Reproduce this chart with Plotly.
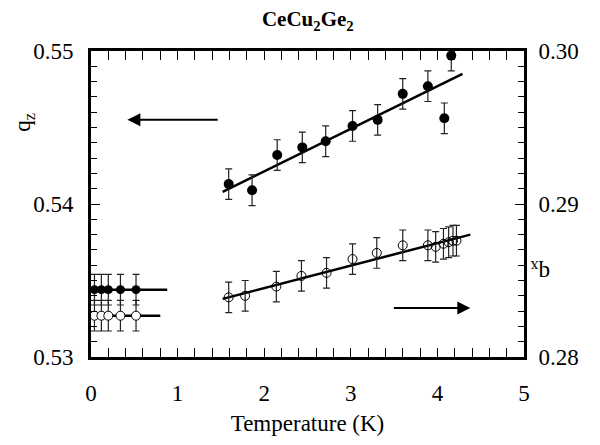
import plotly.graph_objects as go

# ---- data ----
# q_z (left axis), filled circles
T_qz_low = [0.04, 0.12, 0.20, 0.34, 0.52]
qz_low = [0.5344, 0.5344, 0.5344, 0.5344, 0.5344]
qz_low_err = [0.001, 0.001, 0.001, 0.001, 0.001]
T_qz_high = [1.59, 1.86, 2.15, 2.44, 2.71, 3.02, 3.31, 3.60, 3.89, 4.08, 4.16]
qz_high = [0.5413, 0.5409, 0.5432, 0.5437, 0.5441, 0.5451, 0.5455, 0.5472, 0.5477, 0.5456, 0.5497]
qz_high_err = [0.001] * 11
T_qz_flat = [0.0, 0.88]
qz_flat = [0.5344, 0.5344]
T_qz_fit = [1.52, 4.29]
qz_fit = [0.5408, 0.5485]

# x_b (right axis), open circles
T_xb_low = [0.04, 0.12, 0.20, 0.34, 0.52]
xb_low = [0.2827, 0.2827, 0.2827, 0.2827, 0.2827]
xb_low_err = [0.001, 0.001, 0.001, 0.001, 0.001]
T_xb_high = [1.59, 1.78, 2.14, 2.43, 2.72, 3.02, 3.30, 3.60, 3.89, 3.98, 4.07, 4.13, 4.18, 4.22]
xb_high = [0.2839, 0.2840, 0.2846, 0.2853, 0.2855, 0.2864, 0.2868, 0.2873, 0.2873, 0.2872, 0.2874, 0.2875, 0.2876, 0.2876]
xb_high_err = [0.001] * 14
T_xb_flat = [0.0, 0.80]
xb_flat = [0.2827, 0.2827]
T_xb_fit = [1.52, 4.38]
xb_fit = [0.2838, 0.2880]

x_ticks = [0, 1, 2, 3, 4, 5]

FONT = "Liberation Serif"
err_style = dict(type="data", thickness=1.2, width=3.5, color="#222")

fig = go.Figure()

# left-axis traces
fig.add_trace(go.Scatter(x=T_qz_flat, y=qz_flat, mode="lines",
                         line=dict(color="black", width=2.5), yaxis="y"))
fig.add_trace(go.Scatter(x=T_qz_fit, y=qz_fit, mode="lines",
                         line=dict(color="black", width=2.5), yaxis="y"))
fig.add_trace(go.Scatter(x=T_qz_low, y=qz_low, mode="markers",
                         marker=dict(color="black", size=9),
                         error_y=dict(array=qz_low_err, **err_style), yaxis="y"))
fig.add_trace(go.Scatter(x=T_qz_high, y=qz_high, mode="markers",
                         marker=dict(color="black", size=10),
                         error_y=dict(array=qz_high_err, **err_style), yaxis="y"))

# right-axis traces
fig.add_trace(go.Scatter(x=T_xb_flat, y=xb_flat, mode="lines",
                         line=dict(color="black", width=2.5), yaxis="y2"))
fig.add_trace(go.Scatter(x=T_xb_fit, y=xb_fit, mode="lines",
                         line=dict(color="black", width=2.5), yaxis="y2"))
fig.add_trace(go.Scatter(x=T_xb_low, y=xb_low, mode="markers",
                         marker=dict(color="white", size=9, line=dict(color="black", width=1)),
                         error_y=dict(array=xb_low_err, **err_style), yaxis="y2"))
fig.add_trace(go.Scatter(x=T_xb_high, y=xb_high, mode="markers",
                         marker=dict(color="rgba(0,0,0,0)", size=9, line=dict(color="black", width=1)),
                         error_y=dict(array=xb_high_err, **err_style), yaxis="y2"))

axis_font = dict(family=FONT, size=23, color="black")

fig.update_layout(
    width=600, height=445,
    margin=dict(l=91, r=76, t=51, b=74),
    paper_bgcolor="white", plot_bgcolor="white",
    showlegend=False,
    title=dict(text="<b>CeCu<sub>2</sub>Ge<sub>2</sub></b>", x=0.513, xanchor="center",
               y=1 - 19 / 445, yanchor="middle", yref="container",
               font=dict(family=FONT, size=21, color="black")),
    xaxis=dict(range=[0, 5], tickvals=x_ticks, ticktext=[str(v) for v in x_ticks],
               showgrid=False, zeroline=False,
               showline=True, linewidth=3, linecolor="black", mirror="allticks",
               ticks="inside", ticklen=9, tickwidth=1.2, tickcolor="black",
               minor=dict(dtick=0.2, ticks="inside", ticklen=5, tickwidth=1.2, tickcolor="black"),
               tickfont=axis_font, ticklabelstandoff=13,
               title=dict(text="Temperature (K)", font=axis_font, standoff=11)),
    yaxis=dict(range=[0.53, 0.55], tickvals=[0.53, 0.54, 0.55], tickformat=".2f",
               showgrid=False, zeroline=False,
               showline=True, linewidth=3, linecolor="black",
               ticks="inside", ticklen=9, tickwidth=1.2, tickcolor="black",
               minor=dict(dtick=0.001, ticks="inside", ticklen=6, tickwidth=1.2, tickcolor="black"),
               tickfont=axis_font, ticklabelstandoff=10),
    yaxis2=dict(range=[0.28, 0.30], tickvals=[0.28, 0.29, 0.30], tickformat=".2f",
                overlaying="y", side="right",
                showgrid=False, zeroline=False,
                showline=True, linewidth=3, linecolor="black",
                ticks="inside", ticklen=9, tickwidth=1.2, tickcolor="black",
                minor=dict(dtick=0.001, ticks="inside", ticklen=6, tickwidth=1.2, tickcolor="black"),
                tickfont=axis_font, ticklabelstandoff=7),
)

# axis labels as annotations
fig.add_annotation(text="q<sub>z</sub>", xref="paper", yref="paper",
                   x=-0.155, y=(371 - 125) / 320,
                   xanchor="center", yanchor="middle", textangle=-90, showarrow=False,
                   font=axis_font)
fig.add_annotation(text="q<sub>x</sub>", xref="paper", yref="paper",
                   x=(540 - 91) / 433, y=(371 - 282) / 320,
                   xanchor="center", yanchor="middle", textangle=180, showarrow=False,
                   font=axis_font)

# arrows
fig.add_annotation(x=0.42, y=0.5455, xref="x", yref="y",
                   ax=1.48, ay=0.5455, axref="x", ayref="y",
                   showarrow=True, arrowhead=2, arrowsize=1.3, arrowwidth=2, arrowcolor="black", text="")
fig.add_annotation(x=4.38, y=0.2832, xref="x", yref="y2",
                   ax=3.48, ay=0.2832, axref="x", ayref="y2",
                   showarrow=True, arrowhead=2, arrowsize=1.3, arrowwidth=2, arrowcolor="black", text="")

fig.write_html("out.html",
               config={"displayModeBar": False},
               post_script="document.body.style.margin='0';document.body.style.overflow='hidden';")
